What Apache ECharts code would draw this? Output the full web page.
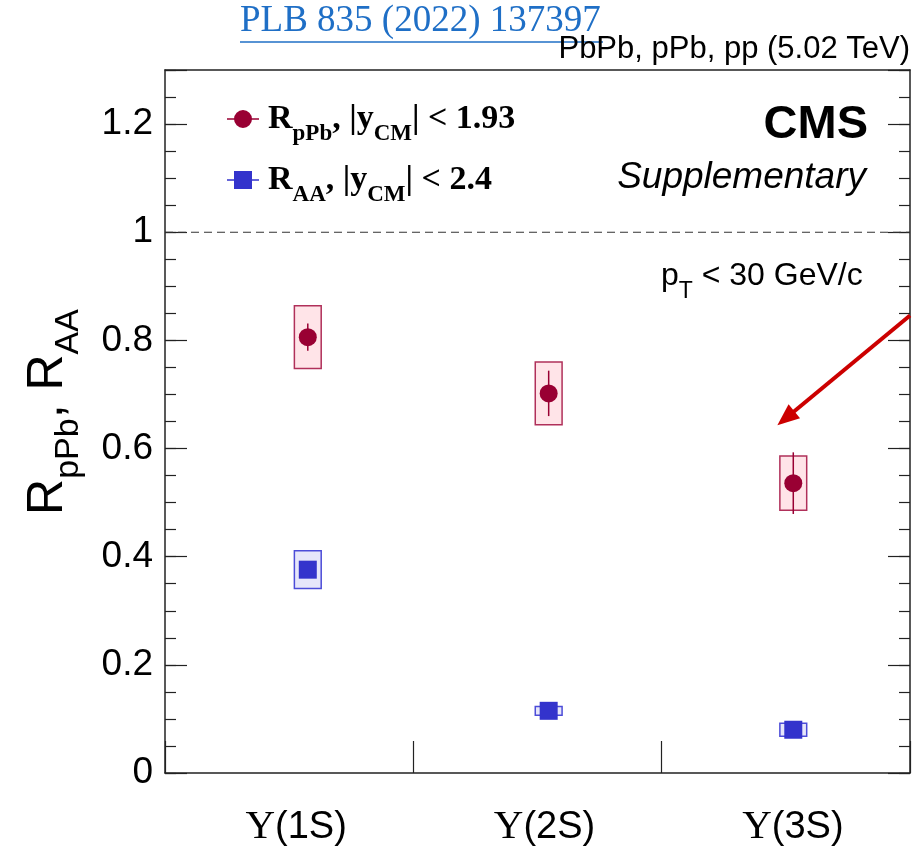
<!DOCTYPE html>
<html>
<head>
<meta charset="utf-8">
<title>Upsilon nuclear modification factors</title>
<script src="https://cdn.jsdelivr.net/npm/echarts@6/dist/echarts.min.js"></script>
<style>
  html, body { margin: 0; padding: 0; background: #fff; }
  #chart { width: 913px; height: 846px; }
</style>
</head>
<body>
<div id="chart"></div>
<script>
// Upsilon states and where each sits inside its bin
const categories = ['Υ(1S)', 'Υ(2S)', 'Υ(3S)'];
const xPos = [0.575, 1.545, 2.53];

// R_pPb: central value, statistical and systematic uncertainties
const rpPbValue = [0.806, 0.702, 0.536];
const rpPbStat = [0.025, 0.042, 0.057];
const rpPbSyst = [0.058, 0.058, 0.050];

// R_AA: central value and systematic uncertainty
const raaValue = [0.376, 0.115, 0.080];
const raaSyst = [0.035, 0.008, 0.012];

// reference line and annotation arrow (data coordinates)
const unityLevel = 1;
const arrowFrom = [3.0, 0.846];
const arrowTo = [2.50, 0.656];

const RED = '#990033', RED_FILL = '#ffe4e8', RED_EDGE = '#b0305a';
const BLUE = '#3333cc', BLUE_FILL = '#e6e6fa', BLUE_EDGE = '#4c4cd8';
const FRAME = '#222';
const BOX_HALF = 0.054;

const chart = echarts.init(document.getElementById('chart'), null, { renderer: 'canvas' });

function boxSeries(name, values, syst, fill, edge) {
  return {
    type: 'custom', xAxisIndex: 1, yAxisIndex: 0, silent: true, z: 2,
    data: values.map((v, i) => [xPos[i], v - syst[i], v + syst[i]]),
    renderItem(params, api) {
      const a = api.coord([api.value(0) - BOX_HALF, api.value(2)]);
      const b = api.coord([api.value(0) + BOX_HALF, api.value(1)]);
      return {
        type: 'rect',
        shape: { x: a[0], y: a[1], width: b[0] - a[0], height: b[1] - a[1] },
        style: { fill: fill, stroke: edge, lineWidth: 1.5 }
      };
    }
  };
}

function statSeries(values, stat, color) {
  return {
    type: 'custom', xAxisIndex: 1, yAxisIndex: 0, silent: true, z: 3,
    data: values.map((v, i) => [xPos[i], v - stat[i], v + stat[i]]),
    renderItem(params, api) {
      const a = api.coord([api.value(0), api.value(1)]);
      const b = api.coord([api.value(0), api.value(2)]);
      return {
        type: 'line',
        shape: { x1: a[0], y1: a[1], x2: b[0], y2: b[1] },
        style: { stroke: color, lineWidth: 1.5 }
      };
    }
  };
}

const legendRich = {
  r: { fontFamily: 'Liberation Serif', fontWeight: 'bold', fontSize: 34, lineHeight: 38, color: '#000' },
  s: { fontFamily: 'Liberation Serif', fontWeight: 'bold', fontSize: 23, lineHeight: 54, verticalAlign: 'bottom', color: '#000' }
};

const yMajor = {
  type: 'value', min: 0, max: 1.3, interval: 0.2,
  axisLine: { show: true, lineStyle: { color: FRAME, width: 1.5 } },
  axisTick: { show: true, inside: true, length: 22, lineStyle: { color: FRAME, width: 1.2 } },
  splitLine: { show: false }
};
const yMinor = {
  type: 'value', min: 0, max: 1.3, interval: 0.05,
  axisLine: { show: false },
  axisTick: { show: true, inside: true, length: 11, lineStyle: { color: FRAME, width: 1.2 } },
  axisLabel: { show: false },
  splitLine: { show: false }
};

const option = {
  backgroundColor: '#fff',
  animation: false,
  grid: { left: 165, right: 3, top: 70, bottom: 73, containLabel: false, outerBoundsMode: 'none' },
  legend: {
    orient: 'vertical', left: 227, top: 102, padding: 0,
    itemWidth: 32, itemHeight: 18, itemGap: 17,
    data: [
      { name: 'rpPb', icon: 'path://M0,8.3h32v1.4h-32z M25,9a9,9 0 1,1 -18,0a9,9 0 1,1 18,0z' },
      { name: 'raa', icon: 'path://M0,8.3h32v1.4h-32z M7,0h18v18h-18z' }
    ],
    formatter: n => n === 'rpPb'
      ? '{r|R}{s|pPb}{r|, |y}{s|CM}{r|| < 1.93}'
      : '{r|R}{s|AA}{r|, |y}{s|CM}{r|| < 2.4}',
    textStyle: { rich: legendRich, padding: [0, 0, 0, 4] },
    selectedMode: false
  },
  xAxis: [
    {
      type: 'category', data: categories, position: 'bottom', boundaryGap: true,
      axisLine: { show: true, lineStyle: { color: FRAME, width: 1.5 } },
      axisTick: { show: true, inside: true, length: 32, alignWithLabel: false, lineStyle: { color: FRAME, width: 1.2 } },
      axisLabel: {
        margin: 34,
        padding: [0, 0, 0, 14],
        formatter: v => '{u|' + v[0] + '}{t|' + v.slice(1) + '}',
        rich: {
          u: { fontFamily: 'Liberation Serif', fontSize: 41, color: '#000' },
          t: { fontFamily: 'Liberation Sans', fontSize: 38, color: '#000' }
        }
      },
      splitLine: { show: false }
    },
    {
      type: 'value', min: 0, max: 3, interval: 1, position: 'top',
      axisLine: { show: true, onZero: false, lineStyle: { color: FRAME, width: 1.5 } },
      axisTick: { show: false }, axisLabel: { show: false }, splitLine: { show: false }
    }
  ],
  yAxis: [
    Object.assign({}, yMajor, {
      position: 'left',
      axisLabel: {
        margin: 12, fontFamily: 'Liberation Sans', fontSize: 37, color: '#000',
        formatter: v => (Math.abs(v * 5 - Math.round(v * 5)) < 1e-6 ? String(+v.toFixed(1)) : '')
      }
    }),
    Object.assign({}, yMinor, { position: 'left' }),
    Object.assign({}, yMajor, { position: 'right', axisLabel: { show: false } }),
    Object.assign({}, yMinor, { position: 'right' })
  ],
  series: [
    {
      name: 'unity', type: 'line', xAxisIndex: 1, yAxisIndex: 0, silent: true, z: 1,
      symbol: 'none',
      data: [[0, unityLevel], [3, unityLevel]],
      lineStyle: { color: '#333', width: 1.2, type: [8, 5] },
      markLine: {
        silent: true, animation: false,
        symbol: ['none', 'triangle'], symbolSize: [18, 22],
        label: { show: false },
        lineStyle: { color: '#cc0000', width: 4, type: 'solid', opacity: 1 },
        itemStyle: { color: '#cc0000' },
        emphasis: { disabled: true },
        data: [[{ coord: arrowFrom }, { coord: arrowTo }]]
      }
    },
    boxSeries('rpPbSyst', rpPbValue, rpPbSyst, RED_FILL, RED_EDGE),
    boxSeries('raaSyst', raaValue, raaSyst, BLUE_FILL, BLUE_EDGE),
    statSeries(rpPbValue, rpPbStat, RED),
    {
      name: 'rpPb', type: 'scatter', xAxisIndex: 1, yAxisIndex: 0, z: 4,
      symbol: 'circle', symbolSize: 18,
      itemStyle: { color: RED, opacity: 1 },
      data: rpPbValue.map((v, i) => [xPos[i], v])
    },
    {
      name: 'raa', type: 'scatter', xAxisIndex: 1, yAxisIndex: 0, z: 4,
      symbol: 'rect', symbolSize: 18,
      itemStyle: { color: BLUE, opacity: 1 },
      data: raaValue.map((v, i) => [xPos[i], v])
    }
  ],
  graphic: [
    {
      type: 'text', left: 240, top: 3,
      style: { text: 'PLB 835 (2022) 137397', fontFamily: 'Liberation Serif', fontSize: 37, fill: '#1f6fc6' }
    },
    {
      type: 'line', shape: { x1: 240, y1: 42, x2: 603, y2: 42 },
      style: { stroke: '#1f6fc6', lineWidth: 1.5 }
    },
    {
      type: 'text', right: 3, top: 34,
      style: { text: 'PbPb, pPb, pp (5.02 TeV)', fontFamily: 'Liberation Sans', fontSize: 31, fill: '#000' }
    },
    {
      type: 'text', right: 45, top: 102,
      style: { text: 'CMS', fontFamily: 'Liberation Sans', fontWeight: 'bold', fontSize: 47, fill: '#000' }
    },
    {
      type: 'text', right: 47, top: 159,
      style: { text: 'Supplementary', fontFamily: 'Liberation Sans', fontStyle: 'italic', fontSize: 37, fill: '#000' }
    },
    {
      type: 'text', left: 661, top: 260,
      style: {
        text: '{n|p}{s|T}{n| < 30 GeV/c}',
        rich: {
          n: { fontFamily: 'Liberation Sans', fontSize: 32, lineHeight: 35, fill: '#000' },
          s: { fontFamily: 'Liberation Sans', fontSize: 23, lineHeight: 54, verticalAlign: 'bottom', fill: '#000' }
        }
      }
    },
    {
      type: 'text', x: 48, y: 412, rotation: Math.PI / 2,
      style: {
        text: '{r|R}{s|pPb}{r|, R}{s|AA}',
        align: 'center', verticalAlign: 'middle',
        rich: {
          r: { fontFamily: 'Liberation Sans', fontSize: 50, lineHeight: 52, fill: '#000' },
          s: { fontFamily: 'Liberation Sans', fontSize: 34, lineHeight: 76, verticalAlign: 'bottom', fill: '#000' }
        }
      }
    }
  ]
};

chart.setOption(option);
</script>
</body>
</html>
